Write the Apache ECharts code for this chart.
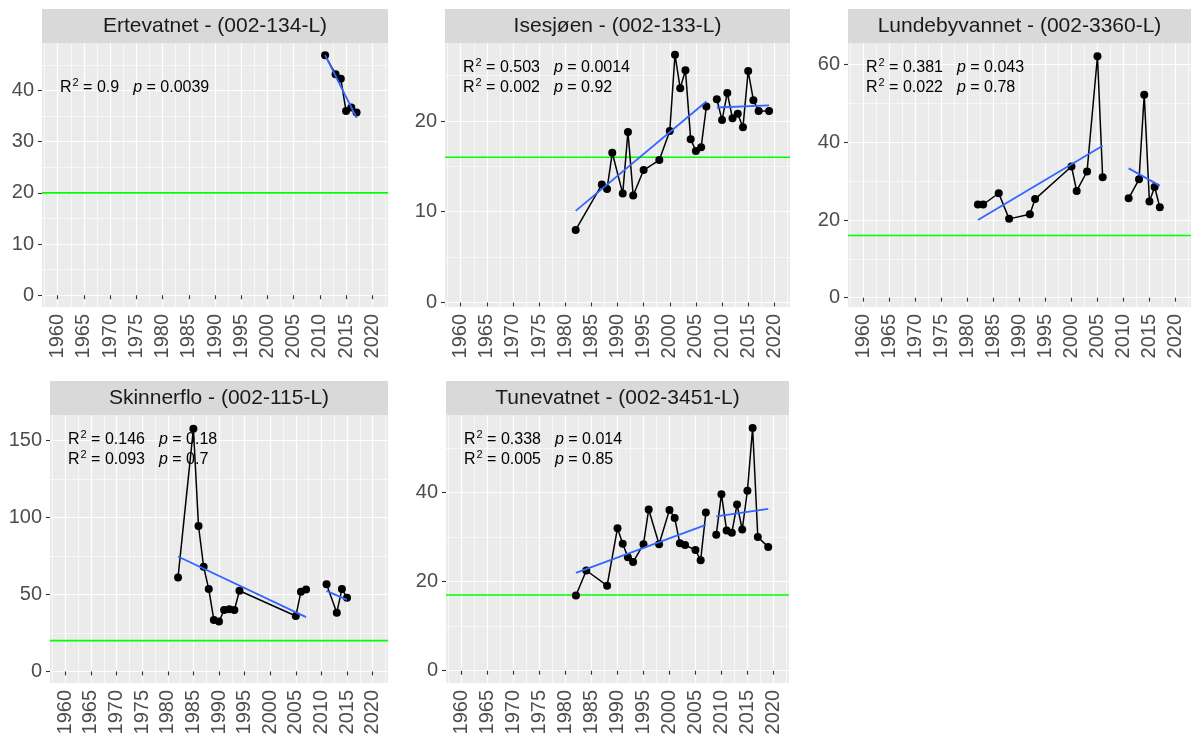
<!DOCTYPE html>
<html>
<head>
<meta charset="utf-8">
<title>Vannkvalitet - trender</title>
<script src="https://cdn.jsdelivr.net/npm/echarts@6/dist/echarts.min.js"></script>
<style>
  html, body { margin: 0; padding: 0; background: #ffffff; }
  #chart { width: 1197px; height: 737px; }
</style>
</head>
<body>
<div id="chart"></div>
<script>
// ---- Shared x scale -------------------------------------------------------
const yearTicks = [1960, 1965, 1970, 1975, 1980, 1985, 1990, 1995, 2000, 2005, 2010, 2015, 2020];
const yearRange = [1957, 2023];
// Observations before this year belong to the first monitoring period
const periodSplitYear = 2008;

// ---- Ertevatnet - (002-134-L) --------------------------------------------
const ertevatnetYears  = [2011, 2013, 2014, 2015, 2016, 2017];
const ertevatnetValues = [46.9, 43.2, 42.3, 36.0, 36.7, 35.7];
const ertevatnetLimit  = 20;
const ertevatnetTicks  = [0, 10, 20, 30, 40];
const ertevatnetStats  = [null, ['0.9', '0.0039']];

// ---- Isesjøen - (002-133-L) ----------------------------------------------
const isesjoenYears  = [1982, 1987, 1988, 1989, 1991, 1992, 1993, 1995, 1998, 2000, 2001, 2002, 2003, 2004, 2005, 2006, 2007,
                        2009, 2010, 2011, 2012, 2013, 2014, 2015, 2016, 2017, 2019];
const isesjoenValues = [8.0, 13.0, 12.5, 16.5, 12.0, 18.8, 11.8, 14.6, 15.7, 18.9, 27.3, 23.6, 25.6, 18.0, 16.7, 17.1, 21.6,
                        22.4, 20.1, 23.1, 20.3, 20.8, 19.3, 25.5, 22.3, 21.1, 21.1];
const isesjoenLimit  = 16;
const isesjoenTicks  = [0, 10, 20];
const isesjoenStats  = [['0.503', '0.0014'], ['0.002', '0.92']];

// ---- Lundebyvannet - (002-3360-L) ----------------------------------------
const lundebyYears  = [1982, 1983, 1986, 1988, 1992, 1993, 2000, 2001, 2003, 2005, 2006,
                       2011, 2013, 2014, 2015, 2016, 2017];
const lundebyValues = [24.0, 24.0, 26.9, 20.3, 21.5, 25.4, 33.8, 27.5, 32.5, 62.2, 31.0,
                       25.6, 30.5, 52.3, 24.8, 28.5, 23.3];
const lundebyLimit  = 16;
const lundebyTicks  = [0, 20, 40, 60];
const lundebyStats  = [['0.381', '0.043'], ['0.022', '0.78']];

// ---- Skinnerflo - (002-115-L) --------------------------------------------
const skinnerfloYears  = [1982, 1985, 1986, 1987, 1988, 1989, 1990, 1991, 1992, 1993, 1994, 2005, 2006, 2007,
                          2011, 2013, 2014, 2015];
const skinnerfloValues = [61.1, 157.6, 94.5, 68.0, 53.5, 33.5, 32.4, 39.9, 40.4, 39.9, 52.4, 36.0, 51.8, 53.3,
                          56.6, 38.2, 53.5, 47.9];
const skinnerfloLimit  = 20;
const skinnerfloTicks  = [0, 50, 100, 150];
const skinnerfloStats  = [['0.146', '0.18'], ['0.093', '0.7']];

// ---- Tunevatnet - (002-3451-L) -------------------------------------------
const tunevatnetYears  = [1982, 1984, 1988, 1990, 1991, 1992, 1993, 1995, 1996, 1998, 2000, 2001, 2002, 2003, 2005, 2006, 2007,
                          2009, 2010, 2011, 2012, 2013, 2014, 2015, 2016, 2017, 2019];
const tunevatnetValues = [16.9, 22.5, 19.1, 32.0, 28.5, 25.5, 24.4, 28.4, 36.2, 28.4, 36.1, 34.3, 28.6, 28.2, 27.1, 24.8, 35.5,
                          30.5, 39.6, 31.5, 31.0, 37.3, 31.7, 40.4, 54.5, 30.0, 27.8];
const tunevatnetLimit  = 17;
const tunevatnetTicks  = [0, 20, 40];
const tunevatnetStats  = [['0.338', '0.014'], ['0.005', '0.85']];

// ---- Panel layout ----------------------------------------------------------
const FONT = "'Liberation Sans', Arial, Helvetica, sans-serif";
const panels = [
  { title: 'Ertevatnet - (002-134-L)',     years: ertevatnetYears, values: ertevatnetValues, limit: ertevatnetLimit, ticks: ertevatnetTicks, stats: ertevatnetStats,
    yRange: [-2.3, 49.3],  box: { left: 42,  top: 43,  width: 346, height: 264 } },
  { title: 'Isesjøen - (002-133-L)',       years: isesjoenYears,   values: isesjoenValues,   limit: isesjoenLimit,   ticks: isesjoenTicks,   stats: isesjoenStats,
    yRange: [-0.5, 28.6],  box: { left: 445, top: 43,  width: 345, height: 264 } },
  { title: 'Lundebyvannet - (002-3360-L)', years: lundebyYears,    values: lundebyValues,    limit: lundebyLimit,    ticks: lundebyTicks,    stats: lundebyStats,
    yRange: [-2.4, 65.6],  box: { left: 848, top: 43,  width: 343, height: 264 } },
  { title: 'Skinnerflo - (002-115-L)',     years: skinnerfloYears, values: skinnerfloValues, limit: skinnerfloLimit, ticks: skinnerfloTicks, stats: skinnerfloStats,
    yRange: [-7.5, 166.6], box: { left: 50,  top: 415, width: 338, height: 268 } },
  { title: 'Tunevatnet - (002-3451-L)',    years: tunevatnetYears, values: tunevatnetValues, limit: tunevatnetLimit, ticks: tunevatnetTicks, stats: tunevatnetStats,
    yRange: [-2.75, 57.4], box: { left: 446, top: 415, width: 343, height: 268 } }
];
const STRIP_H = 34;

// Minor grid positions halfway between major breaks (inside the axis range)
function minorBreaks(ticks, range) {
  const step = ticks[1] - ticks[0];
  const out = [];
  for (let v = ticks[0] - step / 2; v <= ticks[ticks.length - 1] + step / 2; v += step) {
    if (v >= range[0] && v <= range[1]) out.push(v);
  }
  return out;
}

// Ordinary least squares fit drawn across the span of its own points
function fitLine(points) {
  const n = points.length;
  const mx = points.reduce((s, p) => s + p[0], 0) / n;
  const my = points.reduce((s, p) => s + p[1], 0) / n;
  let sxy = 0, sxx = 0;
  points.forEach(p => { sxy += (p[0] - mx) * (p[1] - my); sxx += (p[0] - mx) * (p[0] - mx); });
  const slope = sxy / sxx;
  const x0 = points[0][0], x1 = points[n - 1][0];
  return [[x0, my + slope * (x0 - mx)], [x1, my + slope * (x1 - mx)]];
}

const N = panels.length;
const grids = [], xAxes = [], yAxes = [], series = [], graphics = [];

const tickStyle = { show: true, length: 4, lineStyle: { color: '#333333', width: 1.1 } };
const labelStyle = { color: '#4D4D4D', fontSize: 20, fontFamily: FONT };

panels.forEach((p, i) => {
  const b = p.box;
  grids.push({ left: b.left, top: b.top, width: b.width, height: b.height, show: true,
               backgroundColor: '#EBEBEB', borderWidth: 0, outerBoundsMode: 'none', containLabel: false });

  // main axes (ticks, labels, major grid)
  xAxes[i] = {
    gridIndex: i, type: 'value', min: yearRange[0], max: yearRange[1],
    axisLine: { show: false },
    axisTick: Object.assign({ customValues: yearTicks }, tickStyle),
    axisLabel: Object.assign({ customValues: yearTicks, rotate: 90, margin: 7, formatter: v => String(v) }, labelStyle),
    splitLine: { show: true, lineStyle: { color: '#FFFFFF', width: 1.2 } }
  };
  yAxes[i] = {
    gridIndex: i, type: 'value', min: p.yRange[0], max: p.yRange[1],
    axisLine: { show: false },
    axisTick: Object.assign({ customValues: p.ticks }, tickStyle),
    axisLabel: Object.assign({ customValues: p.ticks, margin: 8, formatter: v => String(v) }, labelStyle),
    splitLine: { show: true, lineStyle: { color: '#FFFFFF', width: 1.2 } }
  };
  // companion axes that only carry the minor grid
  xAxes[N + i] = {
    gridIndex: i, type: 'value', min: yearRange[0], max: yearRange[1],
    axisLine: { show: false }, axisLabel: { show: false },
    axisTick: { show: false, customValues: minorBreaks(yearTicks, yearRange) },
    splitLine: { show: true, lineStyle: { color: '#FFFFFF', width: 0.6 } }
  };
  yAxes[N + i] = {
    gridIndex: i, type: 'value', min: p.yRange[0], max: p.yRange[1], position: 'left',
    axisLine: { show: false }, axisLabel: { show: false },
    axisTick: { show: false, customValues: minorBreaks(p.ticks, p.yRange) },
    splitLine: { show: true, lineStyle: { color: '#FFFFFF', width: 0.6 } }
  };

  // reference level
  series.push({
    type: 'line', xAxisIndex: i, yAxisIndex: i, silent: true, z: 2,
    data: [[yearRange[0], p.limit], [yearRange[1], p.limit]],
    symbol: 'none', lineStyle: { color: '#00FF00', width: 1.6 }
  });

  // observations, one connected run per monitoring period, with its trend
  const pts = p.years.map((y, k) => [y, p.values[k]]);
  const runs = [pts.filter(q => q[0] < periodSplitYear), pts.filter(q => q[0] >= periodSplitYear)];
  runs.forEach(run => {
    if (!run.length) return;
    series.push({
      type: 'line', xAxisIndex: i, yAxisIndex: i, z: 3, silent: true,
      data: run, symbol: 'circle', symbolSize: 8, showSymbol: true,
      itemStyle: { color: '#000000' }, lineStyle: { color: '#000000', width: 1.5 }
    });
    if (run.length > 1) {
      series.push({
        type: 'line', xAxisIndex: i, yAxisIndex: i, z: 4, silent: true,
        data: fitLine(run), symbol: 'none', lineStyle: { color: '#3366FF', width: 1.8 }
      });
    }
  });

  // facet strip
  graphics.push({
    type: 'rect', silent: true,
    shape: { x: b.left, y: b.top - STRIP_H, width: b.width, height: STRIP_H },
    style: { fill: '#D9D9D9' }
  });
  graphics.push({
    type: 'text', silent: true, x: b.left + b.width / 2, y: b.top - STRIP_H / 2,
    style: { text: p.title, fill: '#1A1A1A', fontSize: 21, fontFamily: FONT, align: 'center', verticalAlign: 'middle' }
  });

  // regression statistics, one line per period
  p.stats.forEach((s, k) => {
    if (!s) return;
    graphics.push({
      type: 'text', silent: true, z: 10,
      x: b.left + 18, y: b.top + 25 + k * 20,
      style: {
        text: '{r|R}{s|2}{t| = ' + s[0] + '}{g| }{p|p}{t| = ' + s[1] + '}',
        align: 'left', verticalAlign: 'middle',
        rich: {
          r: { fontSize: 16, fontFamily: FONT, fill: '#000000' },
          s: { fontSize: 11, fontFamily: FONT, fill: '#000000', padding: [0, 0, 10, 1] },
          t: { fontSize: 16, fontFamily: FONT, fill: '#000000' },
          g: { fontSize: 16, fontFamily: FONT, width: 14 },
          p: { fontSize: 16, fontFamily: FONT, fontStyle: 'italic', fill: '#000000' }
        }
      }
    });
  });
});

const chart = echarts.init(document.getElementById('chart'), null, { renderer: 'canvas' });
chart.setOption({
  animation: false,
  backgroundColor: '#FFFFFF',
  grid: grids,
  xAxis: xAxes,
  yAxis: yAxes,
  series: series,
  graphic: graphics
});
</script>
</body>
</html>
